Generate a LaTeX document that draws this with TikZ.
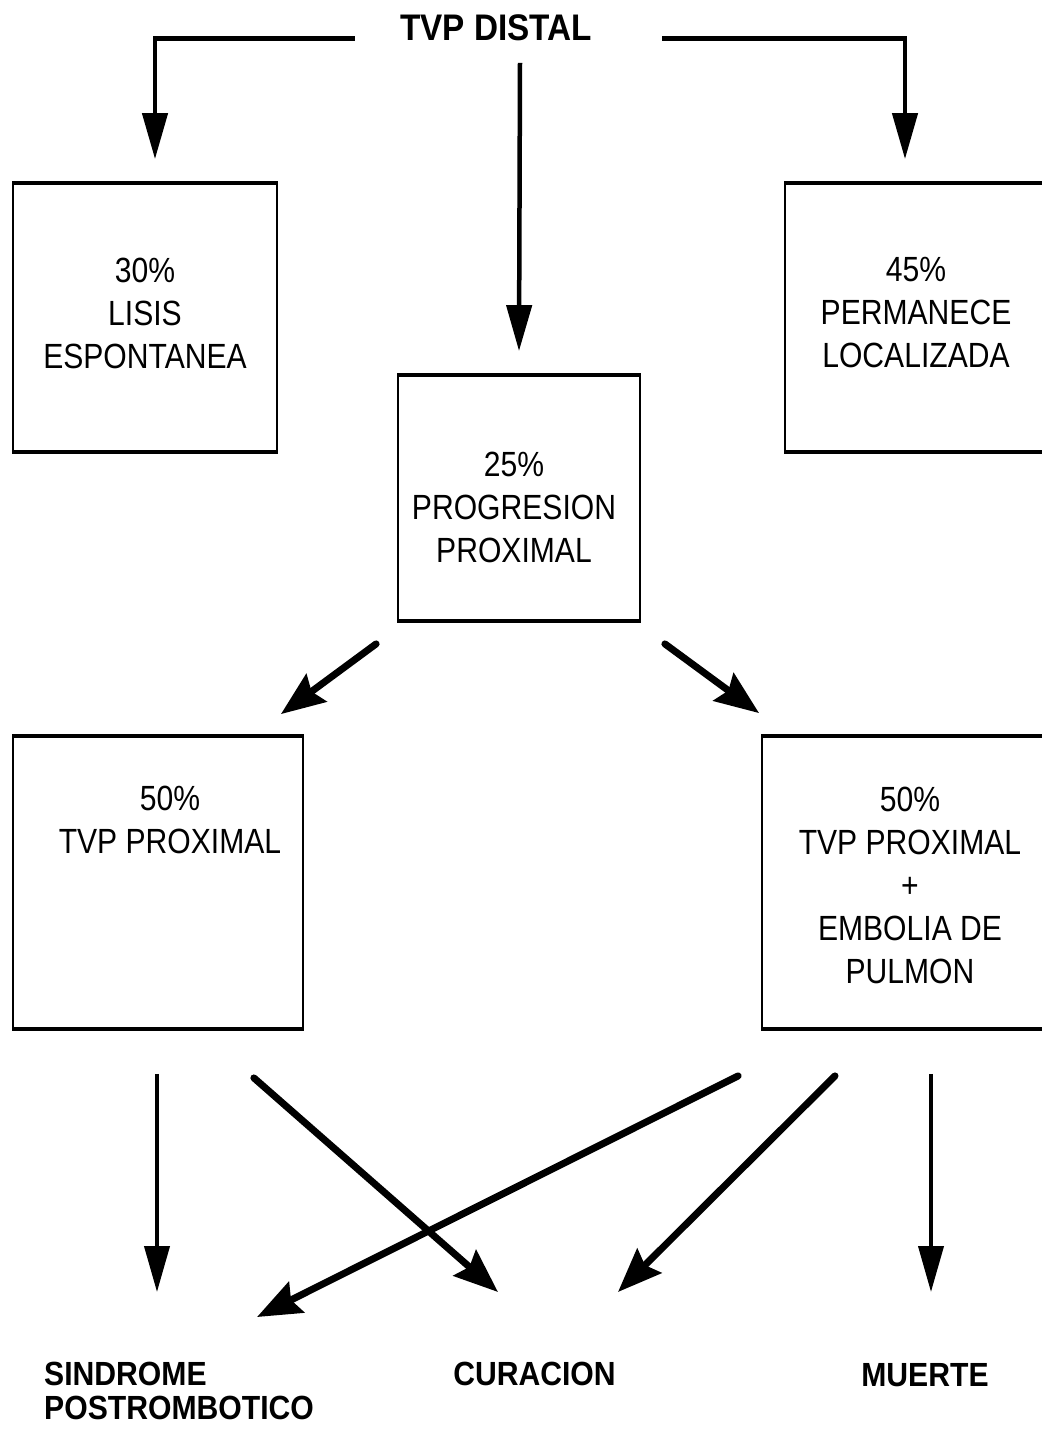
\documentclass[tikz,border=0pt]{standalone}
\usepackage{fontspec}
\usepackage{graphicx}
\usetikzlibrary{arrows.meta}
\newfontfamily\boxfont[FakeStretch=0.86]{Liberation Sans}
\newfontfamily\labfont[FakeStretch=0.9]{Liberation Sans}
\begin{document}
\begin{tikzpicture}[x=1pt,y=-1pt,
  boxframe/.style={draw, line width=1.8pt, rectangle, inner sep=0pt},
  boxtext/.style={font=\boxfont\fontsize{35}{43}\selectfont, align=center, inner sep=0pt},
  toplab/.style={font=\labfont\bfseries\fontsize{37}{40}\selectfont, inner sep=0pt},
  botlab/.style={font=\labfont\bfseries\fontsize{33.5}{34.5}\selectfont, inner sep=0pt},
  varrow/.style={line width=4.5pt, -{Triangle[length=46pt,width=25pt]}},
  darrow/.style={line width=7pt, line cap=round, -{Stealth[length=44pt,width=34pt,inset=6pt]}}
]
\useasboundingbox (0,0) rectangle (1042,1436);
\fill[white] (0,0) rectangle (1042,1436);
\clip (0,0) rectangle (1042,1436);

% boxes
\node[boxframe, minimum width=264pt, minimum height=267pt] (b1) at (145,317.5) {};
\node[boxframe, minimum width=242pt, minimum height=244pt] (b2) at (519,498) {};
\node[boxframe, minimum width=260pt, minimum height=267pt] (b3) at (915,317.5) {};
\node[boxframe, minimum width=290pt, minimum height=291pt] (b4) at (158,882.5) {};
\node[boxframe, minimum width=296pt, minimum height=291pt] (b5) at (910,882.5) {};
\foreach \n in {b1,b2,b3,b4,b5}{
  \draw[line width=4pt] (\n.north west) -- (\n.north east);
  \draw[line width=4pt] (\n.south west) -- (\n.south east);
}

% box texts
\node[boxtext] (b1t) at (145,313) {30\%\\LISIS\\ESPONTANEA};
\node[boxtext] (b2t) at (514,507) {25\%\\PROGRESION\\PROXIMAL};
\node[boxtext] (b3t) at (916,313) {45\%\\PERMANECE\\LOCALIZADA};
\node[boxtext] (b4t) at (170,820) {50\%\\TVP PROXIMAL};
\node[boxtext] (b5t) at (910,885) {50\%\\TVP PROXIMAL\\+\\EMBOLIA DE\\PULMON};

% labels
\node[toplab] (top) at (496,27.5) {TVP DISTAL};
\node[botlab, align=left, anchor=west] (sind) at (44,1391) {SINDROME\\POSTROMBOTICO};
\node[botlab] (cura) at (534.5,1374) {CURACION};
\node[botlab] (muer) at (925,1375) {MUERTE};

% top connectors
\draw[varrow] ([xshift=-45pt,yshift=1.5pt]top.base west) -| ([xshift=10pt,yshift=24pt]b1.north);
\draw[varrow] ([xshift=70pt,yshift=1.5pt]top.base east) -| ([xshift=-10pt,yshift=24pt]b3.north);
\draw[varrow] ([xshift=24pt,yshift=-22pt]top.south) -- ([yshift=24pt]b2.north);

% middle connectors
\draw[darrow] ([xshift=-21pt,yshift=-23pt]b2.south west) -- ([xshift=-23pt,yshift=22pt]b4.north east);
\draw[darrow] ([xshift=24pt,yshift=-23pt]b2.south east) -- ([xshift=-2pt,yshift=23pt]b5.north west);

% bottom targets
\coordinate (sindA) at (157,1292);
\coordinate (sindB) at (257,1317);
\coordinate (curaA) at (498,1292);
\coordinate (curaB) at (618,1292);
\coordinate (muerA) at (931,1292);

\draw[varrow, line width=4pt] ([xshift=-1pt,yshift=-45pt]b4.south) -- (sindA);
\draw[darrow] ([xshift=-50pt,yshift=-49pt]b4.south east) -- (curaA);
\draw[darrow] ([xshift=-23pt,yshift=-47pt]b5.south west) -- (sindB);
\draw[darrow] ([xshift=-75pt,yshift=-47pt]b5.south) -- (curaB);
\draw[varrow, line width=4pt] ([xshift=21pt,yshift=-45pt]b5.south) -- (muerA);
\end{tikzpicture}
\end{document}
